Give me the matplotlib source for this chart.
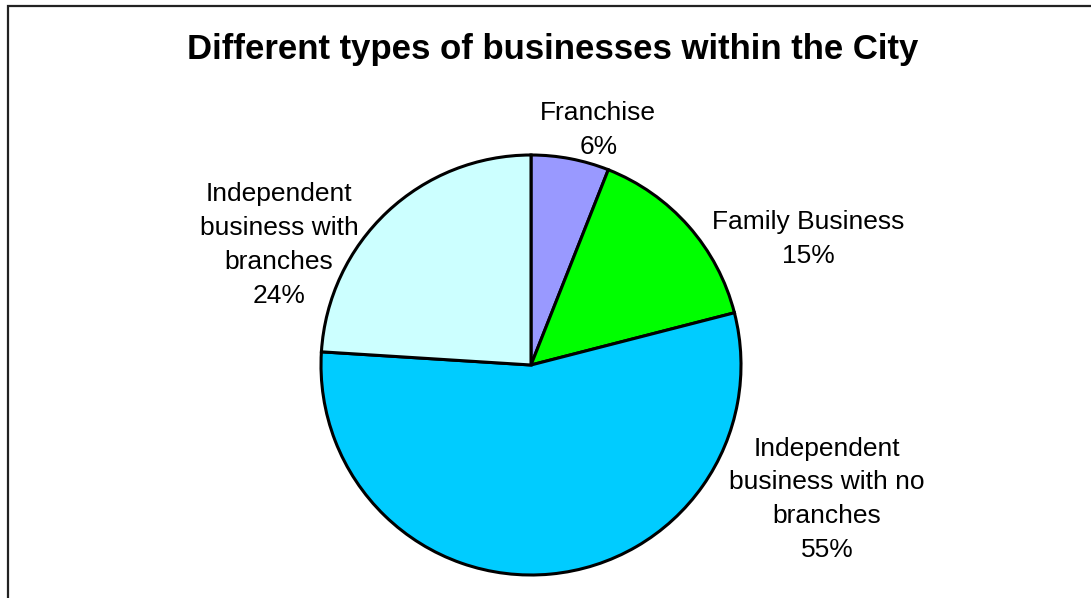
import matplotlib.pyplot as plt
from matplotlib.patches import Rectangle

plt.rcParams["font.family"] = ["Liberation Sans", "DejaVu Sans"]

# Business types and their share (%)
categories = [
    "Franchise",
    "Family Business",
    "Independent\nbusiness with no\nbranches",
    "Independent\nbusiness with\nbranches",
]
shares = [6, 15, 55, 24]
colors = ["#9999FF", "#00FF00", "#00CCFF", "#CCFFFF"]

# Label placement (pie radius = 1)
label_pos = [(0.32, 1.12), (1.32, 0.60), (1.41, -0.64), (-1.20, 0.57)]

W, H = 1091, 598
fig = plt.figure(figsize=(W / 100, H / 100), dpi=100)
fig.patch.set_facecolor("white")

# Axes filling the figure, 210 px per unit, pie centre at (531, 365) px
R = 210.0
cx, cy = 531.0, 365.0
ax = fig.add_axes([0, 0, 1, 1])
wedges, _ = ax.pie(
    shares,
    colors=colors,
    startangle=90,
    counterclock=False,
    radius=1,
    wedgeprops=dict(edgecolor="black", linewidth=2.2),
)
ax.set_aspect("auto")
ax.set_xlim(-cx / R, (W - cx) / R)
ax.set_ylim(-(H - cy) / R, cy / R)
ax.axis("off")

for name, val, (x, y) in zip(categories, shares, label_pos):
    ax.text(x, y, f"{name}\n{val}%", ha="center", va="center",
            fontsize=19, linespacing=1.52, color="black")

fig.text(553 / W, 1 - 50 / H, "Different types of businesses within the City",
         ha="center", va="center", fontsize=25, fontweight="bold")

# Chart area border (runs off the right and bottom edges)
fig.patches.append(Rectangle((7.5 / W, -0.1), 1.2, 1.1 - 6.5 / H,
                             transform=fig.transFigure, fill=False,
                             edgecolor="#222222", linewidth=1.6))

fig.savefig("out.png", dpi=100, facecolor="white")
